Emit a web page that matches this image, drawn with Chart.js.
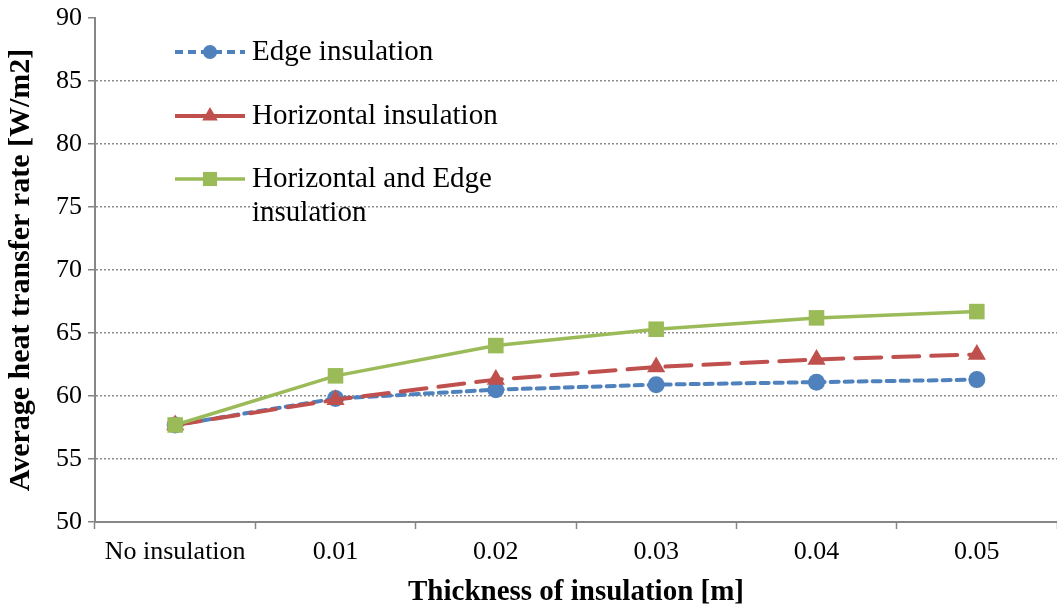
<!DOCTYPE html>
<html>
<head>
<meta charset="utf-8">
<script src="https://cdn.jsdelivr.net/npm/chart.js@4.4.1/dist/chart.umd.min.js"></script>
<style>
  html, body { margin: 0; padding: 0; background: #ffffff; }
  #wrap { width: 1057px; height: 614px; }
</style>
</head>
<body>
<div id="wrap"><canvas id="c" width="1057" height="614"></canvas></div>
<script>
// Insulation thickness categories
const categories = ['No insulation', '0.01', '0.02', '0.03', '0.04', '0.05'];

// Average heat transfer rate [W/m2] for each configuration
const edgeInsulation = [57.7, 59.8, 60.5, 60.9, 61.1, 61.3];
const horizontalInsulation = [57.7, 59.7, 61.3, 62.3, 62.9, 63.3];
const horizontalAndEdge = [57.7, 61.6, 64.0, 65.3, 66.2, 66.7];

// Series names (the last one wraps onto two lines in the legend)
const seriesNames = [
  ['Edge insulation'],
  ['Horizontal insulation'],
  ['Horizontal and Edge', 'insulation']
];

// Y-axis tick range
const yMin = 50, yMax = 90, yStep = 5;

const SERIF = '"Liberation Serif", "Times New Roman", serif';
const BLUE = '#4F81BD', RED = '#C0504D', GREEN = '#9BBB59';

function markerPath(ctx, style, x, y, r) {
  ctx.beginPath();
  if (style === 'circle') {
    ctx.arc(x, y, r, 0, Math.PI * 2);
  } else if (style === 'triangle') {
    ctx.moveTo(x, y - r);
    ctx.lineTo(x + r * 0.866, y + r * 0.5);
    ctx.lineTo(x - r * 0.866, y + r * 0.5);
    ctx.closePath();
  } else {
    const s = Math.SQRT1_2 * r;
    ctx.rect(x - s, y - s, 2 * s, 2 * s);
  }
}

// Legend drawn inside the plot, top-left, with a wrapped third entry
const insideLegend = {
  id: 'insideLegend',
  afterDatasetsDraw(chart) {
    const ctx = chart.ctx;
    const rows = [52, 116, 179];
    chart.data.datasets.forEach((ds, i) => {
      const y = rows[i];
      ctx.save();
      ctx.strokeStyle = ds.borderColor;
      ctx.lineWidth = ds.borderWidth;
      ctx.lineCap = 'butt';
      ctx.setLineDash(i === 0 ? [8, 5] : []);
      ctx.beginPath();
      ctx.moveTo(175, y);
      ctx.lineTo(245, y);
      ctx.stroke();
      ctx.setLineDash([]);
      ctx.fillStyle = ds.backgroundColor;
      const r = i === 0 ? 7 : (i === 1 ? 9 : 10);
      markerPath(ctx, ds.pointStyle, 210, y, r);
      ctx.fill();
      ctx.fillStyle = '#000000';
      ctx.font = '29px ' + SERIF;
      ctx.textBaseline = 'middle';
      ctx.textAlign = 'left';
      seriesNames[i].forEach((line, k) => {
        ctx.fillText(line, 252, y + k * 34);
      });
      ctx.restore();
    });
  }
};

new Chart(document.getElementById('c'), {
  type: 'line',
  data: {
    labels: categories,
    datasets: [
      {
        label: seriesNames[0].join(' '),
        data: edgeInsulation,
        borderColor: BLUE,
        backgroundColor: BLUE,
        borderWidth: 4,
        borderDash: [8, 6],
        borderCapStyle: 'round',
        pointStyle: 'circle',
        pointRadius: 8.5,
        pointBorderWidth: 0,
        tension: 0,
        order: 3
      },
      {
        label: seriesNames[1].join(' '),
        data: horizontalInsulation,
        borderColor: RED,
        backgroundColor: RED,
        borderWidth: 4,
        borderDash: [26, 12],
        borderCapStyle: 'round',
        pointStyle: 'triangle',
        pointRadius: 10.5,
        pointBorderWidth: 0,
        tension: 0,
        order: 2
      },
      {
        label: seriesNames[2].join(' '),
        data: horizontalAndEdge,
        borderColor: GREEN,
        backgroundColor: GREEN,
        borderWidth: 3.5,
        pointStyle: 'rect',
        pointRadius: 11,
        pointBorderWidth: 0,
        tension: 0,
        order: 1
      }
    ]
  },
  options: {
    responsive: false,
    animation: false,
    events: [],
    layout: { autoPadding: false, padding: { top: 18, right: 0, left: 0, bottom: 0 } },
    plugins: {
      legend: { display: false },
      tooltip: { enabled: false }
    },
    scales: {
      x: {
        offset: true,
        afterFit(s) { s.height = 92; s.paddingRight = 0; s.paddingLeft = 0; },
        grid: {
          offset: true,
          drawOnChartArea: false,
          drawTicks: true,
          tickLength: 7,
          tickColor: '#868686',
          tickWidth: 1.5
        },
        border: { color: '#868686', width: 2 },
        ticks: {
          color: '#000000',
          padding: 8,
          maxRotation: 0,
          autoSkip: false,
          font: { family: SERIF, size: 26 }
        },
        title: {
          display: true,
          text: 'Thickness of insulation [m]',
          color: '#000000',
          font: { family: SERIF, size: 29, weight: 'bold' },
          padding: { top: 0, bottom: 4 }
        }
      },
      y: {
        min: yMin,
        max: yMax,
        afterFit(s) { s.width = 95; s.paddingTop = 0; s.paddingBottom = 0; },
        grid: {
          color: (c) => (c.tick && (c.tick.value === yMax || c.tick.value === yMin)) ? 'rgba(0,0,0,0)' : '#8c8c8c',
          lineWidth: 1.5,
          drawTicks: true,
          tickLength: 7,
          tickColor: '#868686',
          tickWidth: 1.5,
          tickBorderDash: []
        },
        border: { color: '#868686', width: 2, dash: [2, 2] },
        ticks: {
          stepSize: yStep,
          color: '#000000',
          padding: 6,
          font: { family: SERIF, size: 26 }
        },
        title: {
          display: true,
          text: 'Average heat transfer rate [W/m2]',
          color: '#000000',
          font: { family: SERIF, size: 30, weight: 'bold' },
          padding: { top: 3, bottom: 0 }
        }
      }
    }
  },
  plugins: [insideLegend]
});
</script>
</body>
</html>
